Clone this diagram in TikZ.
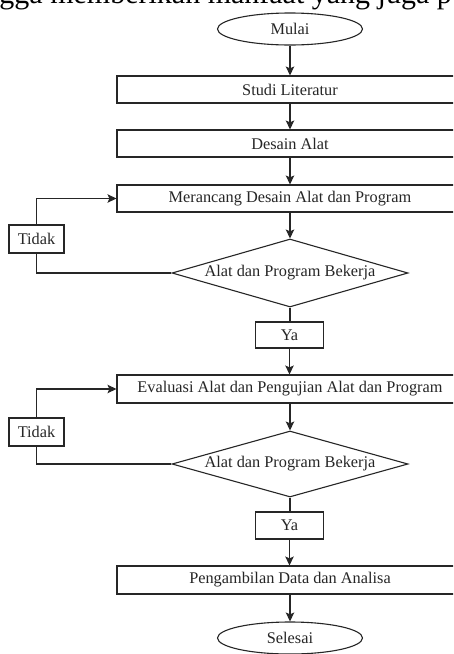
\documentclass[tikz,border=0pt]{standalone}
\usepackage{fontspec}
\setmainfont{Liberation Serif}
\usetikzlibrary{shapes.geometric,arrows.meta}
\begin{document}
\begin{tikzpicture}[x=1pt,y=-1pt,
  line/.style={draw=black!85, line width=1.1pt},
  arr/.style={line, -{Stealth[length=9pt,width=8.5pt,inset=2pt]}},
  lbl/.style={font=\fontsize{16.3}{19}\selectfont, text=black!85},
  procbox/.style={line, lbl, rectangle, minimum width=346pt, minimum height=27pt, inner sep=0pt},
  termbox/.style={line, lbl, ellipse, minimum width=145pt, minimum height=32pt, inner sep=0pt},
  decbox/.style={line, lbl, diamond, aspect=3.47, minimum width=236pt, minimum height=68pt, inner sep=0pt},
  smallbox/.style={line, lbl, rectangle, minimum height=27pt, inner sep=0pt}]
\useasboundingbox (0,0) rectangle (453,654);
\clip (0,0) rectangle (453,654);
\fill[white] (0,0) rectangle (453,654);
\node[anchor=base east, inner sep=0pt, font=\fontsize{30}{30}\selectfont] (toptext) at (452,3) {gga memberikan manfaat yang juga p};

\node[termbox] (mulai) at (290,29) {Mulai};
\node[procbox] (studi) at (290,89.5) {Studi Literatur};
\node[procbox] (desain) at (290,143.5) {Desain Alat};
\node[procbox] (rancang) at (290,198.5) {Merancang Desain Alat dan Program};
\node[decbox] (dec1) at (290,273) {Alat dan Program Bekerja};
\node[smallbox, minimum width=55pt, minimum height=28pt] (tidak1) at (36.5,239) {Tidak};
\node[smallbox, minimum width=68pt, minimum height=26pt] (ya1) at (289.5,335) {Ya};
\node[procbox, minimum height=28pt] (evaluasi) at (290,389) {Evaluasi Alat dan Pengujian Alat dan Program};
\node[decbox, minimum height=66pt] (dec2) at (290,464) {Alat dan Program Bekerja};
\node[smallbox, minimum width=55pt, minimum height=28pt] (tidak2) at (36.5,432) {Tidak};
\node[smallbox, minimum width=68pt, minimum height=27pt] (ya2) at (289.5,525.5) {Ya};
\node[procbox, minimum height=28pt] (ambil) at (290,580) {Pengambilan Data dan Analisa};
\node[termbox] (selesai) at (290,638) {Selesai};

\draw[arr] (mulai) -- (studi);
\draw[arr] (studi) -- (desain);
\draw[arr] (desain) -- (rancang);
\draw[arr] (rancang) -- (dec1);
\draw[line] (dec1) -- (dec1 |- ya1.north);
\draw[arr] (ya1) -- (ya1 |- evaluasi.north);
\draw[line] (dec1.west) -| (tidak1.south);
\draw[arr] (tidak1.north) |- (rancang.west);
\draw[arr] (evaluasi) -- (dec2);
\draw[line] (dec2) -- (dec2 |- ya2.north);
\draw[arr] (ya2) -- (ya2 |- ambil.north);
\draw[line] (dec2.west) -| (tidak2.south);
\draw[arr] (tidak2.north) |- (evaluasi.west);
\draw[arr] (ambil) -- (selesai);
\end{tikzpicture}
\end{document}
